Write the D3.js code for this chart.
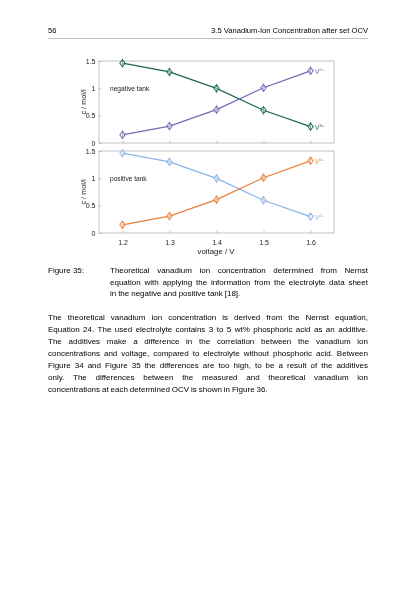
<!DOCTYPE html>
<html>
<head>
<meta charset="utf-8">
<script src="https://cdn.jsdelivr.net/npm/d3@7"></script>
<style>
  body { margin: 0; background: #fff; }
  svg { display: block; font-family: "Liberation Sans", Arial, sans-serif; will-change: transform; }
</style>
</head>
<body>
<div id="page"></div>
<script>
// concentration vs voltage, negative + positive tank (two stacked panels)

var voltage = [1.2, 1.3, 1.4, 1.5, 1.6];
var v2 = [0.15, 0.31, 0.61, 1.01, 1.32];   // negative tank, purple
var v3 = [1.46, 1.30, 1.00, 0.60, 0.30];   // negative tank, green
var v5 = [0.15, 0.31, 0.61, 1.01, 1.32];   // positive tank, orange
var v4 = [1.46, 1.30, 1.00, 0.60, 0.30];   // positive tank, blue
var xTicks = [1.2, 1.3, 1.4, 1.5, 1.6];
var yTicks = [0, 0.5, 1, 1.5];

var width = 420, height = 595;
var ink = "#000";

var svg = d3.select("#page").append("svg")
    .attr("width", width)
    .attr("height", height);

// page header
svg.append("text").attr("x", 48).attr("y", 33).attr("font-size", 7.6).attr("fill", ink).text("56");
svg.append("text").attr("x", 368).attr("y", 33).attr("font-size", 7.6).attr("fill", ink)
    .attr("text-anchor", "end").text("3.5 Vanadium-Ion Concentration after set OCV");
svg.append("line").attr("x1", 48).attr("x2", 368).attr("y1", 38.5).attr("y2", 38.5)
    .attr("stroke", "#999").attr("stroke-width", 0.6);

var x = d3.scaleLinear().domain([1.15, 1.65]).range([99, 334]);

var panels = [
  {top: 61, label: "negative tank", series: [
      {vals: v3, col: "#1c6657", name: "3+"},
      {vals: v2, col: "#7766b4", name: "2+"}], xlab: false},
  {top: 151, label: "positive tank", series: [
      {vals: v4, col: "#8ab4e2", name: "4+"},
      {vals: v5, col: "#e8803a", name: "5+"}], xlab: true}
];

var ph = 82;

panels.forEach(function(p) {
    var y = d3.scaleLinear().domain([0, 1.5]).range([p.top + ph, p.top]);
    var g = svg.append("g");

    // box
    g.append("rect").attr("x", x.range()[0]).attr("y", p.top)
        .attr("width", x.range()[1] - x.range()[0]).attr("height", ph)
        .attr("fill", "none").attr("stroke", "#aaa").attr("stroke-width", 0.7);

    // axes with inward ticks
    var ya = g.append("g").attr("transform", "translate(" + x.range()[0] + ",0)")
        .call(d3.axisLeft(y).tickValues(yTicks).tickSizeInner(-2.5).tickSizeOuter(0).tickPadding(3.5)
              .tickFormat(d3.format("~g")));
    var xa = g.append("g").attr("transform", "translate(0," + (p.top + ph) + ")")
        .call(d3.axisBottom(x).tickValues(xTicks).tickSizeInner(-2.5).tickSizeOuter(0).tickPadding(7)
              .tickFormat(p.xlab ? d3.format(".1f") : ""));
    [ya, xa].forEach(function(a) {
        a.select(".domain").remove();
        a.selectAll("line").attr("stroke", "#888").attr("stroke-width", 0.5);
        a.selectAll("text").attr("font-size", 7).attr("fill", "#222").attr("font-family", "Liberation Sans, Arial, sans-serif");
    });

    // y label
    g.append("text").attr("transform", "translate(85.5," + (p.top + ph / 2) + ") rotate(-90)")
        .attr("text-anchor", "middle").attr("font-size", 7.3).attr("fill", "#222").text("c / mol/l");

    g.append("text").attr("x", 110).attr("y", p.top + 29.5).attr("font-size", 6.6).attr("fill", "#222").text(p.label);

    p.series.forEach(function(s) {
        var pts = voltage.map(function(v, i) { return [x(v), y(s.vals[i])]; });
        g.append("path").attr("d", d3.line()(pts))
            .attr("fill", "none").attr("stroke", s.col).attr("stroke-width", 1.2);
        // diamonds with error ticks
        g.selectAll(null).data(pts).enter().append("line")
            .attr("x1", d => d[0]).attr("x2", d => d[0])
            .attr("y1", d => d[1] - 4.2).attr("y2", d => d[1] + 4.2)
            .attr("stroke", s.col).attr("stroke-width", 0.8);
        g.selectAll(null).data(pts).enter().append("path")
            .attr("d", d3.symbol(d3.symbolDiamond2, 25))
            .attr("transform", d => "translate(" + d[0] + "," + d[1] + ") scale(0.85,1.15)")
            .attr("fill", "#fff").attr("fill-opacity", 0.4)
            .attr("stroke", s.col).attr("stroke-width", 1);
        var last = pts[pts.length - 1];
        var t = g.append("text").attr("x", last[0] + 4.5).attr("y", last[1] + 3)
            .attr("font-size", 6.3).attr("fill", s.col).text("V");
        t.append("tspan").attr("dy", -3).attr("font-size", 4.4).text(s.name);
    });

    if (p.xlab) {
        g.append("text").attr("x", 216).attr("y", p.top + ph + 21).attr("text-anchor", "middle")
            .attr("font-size", 7.8).attr("fill", "#222").text("voltage / V");
    }
});

// justified text helper
var fs = 8;
function para(lines, x0, x1, y0, lh, justifyLast) {
    lines.forEach(function(line, li) {
        var words = line.split(" ");
        var yy = y0 + li * lh;
        var ws = words.map(function(w) {
            var t = svg.append("text").attr("font-size", fs).attr("fill", ink).attr("y", yy).text(w);
            return {node: t, w: t.node().getComputedTextLength()};
        });
        var total = d3.sum(ws, d => d.w);
        var last = li === lines.length - 1 && !justifyLast;
        var gap = (last || words.length < 2) ? fs * 0.24 : (x1 - x0 - total) / (words.length - 1);
        var cx = x0;
        ws.forEach(function(d) { d.node.attr("x", cx); cx += d.w + gap; });
    });
}

svg.append("text").attr("x", 48).attr("y", 273).attr("font-size", fs).attr("fill", ink).text("Figure 35:");
para([
  "Theoretical vanadium ion concentration determined from Nernst",
  "equation with applying the information from the electrolyte data sheet",
  "in the negative and positive tank [18]."
], 110, 368, 273, 11.5, false);

para([
  "The theoretical vanadium ion concentration is derived from the Nernst equation,",
  "Equation 24. The used electrolyte contains 3 to 5 wt% phosphoric acid as an additive.",
  "The additives make a difference in the correlation between the vanadium ion",
  "concentrations and voltage, compared to electrolyte without phosphoric acid. Between",
  "Figure 34 and Figure 35 the differences are too high, to be a result of the additives",
  "only. The differences between the measured and theoretical vanadium ion",
  "concentrations at each determined OCV is shown in Figure 36."
], 48, 368, 320, 12, false);
</script>
</body>
</html>
